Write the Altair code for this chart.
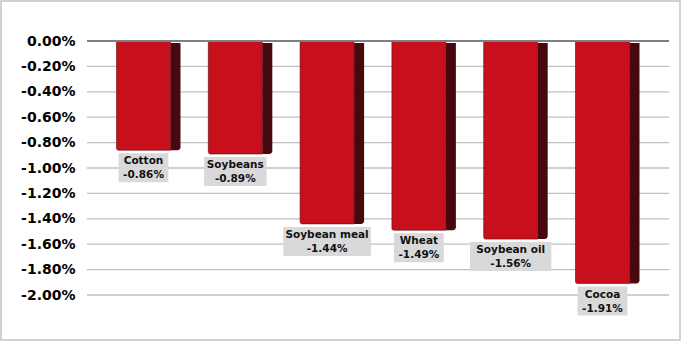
import altair as alt
import pandas as pd

categories = ["Cotton", "Soybeans", "Soybean meal", "Wheat", "Soybean oil", "Cocoa"]
values = [-0.86, -0.89, -1.44, -1.49, -1.56, -1.91]
y_ticks = [0.0, -0.2, -0.4, -0.6, -0.8, -1.0, -1.2, -1.4, -1.6, -1.8, -2.0]

df = pd.DataFrame({"cat": categories, "v": values})

W, H = 582, 254
FONT = "DejaVu Sans"

x_enc = alt.X("cat:N", sort=categories,
              scale=alt.Scale(paddingInner=0, paddingOuter=0.17), axis=None)
y_scale = alt.Scale(domain=[-2.0, 0.0], nice=False, zero=False)
y_axis = alt.Axis(values=y_ticks, grid=False, domain=False, ticks=False,
                  labelOverlap=False, labelFlush=False,
                  labelPadding=12, labelFont=FONT, labelFontSize=14,
                  labelFontWeight="bold", labelColor="#000000",
                  labelExpr="replace(format(datum.value, '.2f'), '\u2212', '-') + '%'")


def yv(field):
    return alt.Y(field, scale=y_scale, axis=y_axis, title=None)


base = alt.Chart(df)

grid = alt.Chart(pd.DataFrame({"t": y_ticks})).mark_rule(color="#c0c0c0", strokeWidth=1.3).encode(
    y=yv("t:Q"), x=alt.value(0), x2=alt.value(W),
)

side = base.mark_bar(width=10, xOffset=27, color="#480810", y2Offset=2,
                     cornerRadiusBottomRight=3).encode(
    x=x_enc, y=yv("v:Q"), y2=alt.datum(0),
)

front = base.mark_bar(width=54, xOffset=-5, color="#c8101c", stroke="#5a0a0f",
                      strokeWidth=0.6, cornerRadiusBottomLeft=2).encode(
    x=x_enc, y=yv("v:Q"), y2=alt.datum(0),
)

zero = alt.Chart(pd.DataFrame({"z": [0.0]})).mark_rule(color="#808080", strokeWidth=2).encode(
    y=yv("z:Q"), x=alt.value(0), x2=alt.value(W),
)

boxes = base.transform_calculate(
    w="max(length(datum.cat), 6) * 6.3 + 12"
).mark_bar(xOffset=-5, yOffset=3, y2Offset=32, color="#d9d9d9").encode(
    x=x_enc, y=yv("v:Q"), y2="v:Q",
    size=alt.Size("w:Q", scale=None, legend=None),
)

txt1 = base.mark_text(xOffset=-5, dy=11, baseline="middle", font=FONT, fontSize=10.5,
                      fontWeight="bold", color="#111111").encode(
    x=x_enc, y=yv("v:Q"), text="cat:N",
)

txt2 = base.transform_calculate(
    pct="replace(format(datum.v, '.2f'), '\u2212', '-') + '%'"
).mark_text(xOffset=-5, dy=25, baseline="middle", font=FONT, fontSize=10.5,
            fontWeight="bold", color="#111111").encode(
    x=x_enc, y=yv("v:Q"), text="pct:N",
)

frame = alt.Chart(pd.DataFrame({"a": [0]})).mark_rect(
    fill=None, stroke="#c4c4c4", strokeWidth=1.5
).encode(
    x=alt.value(-86), x2=alt.value(W + 11), y=alt.value(-40), y2=alt.value(H + 45),
)

chart = alt.layer(grid, side, front, zero, boxes, txt1, txt2, frame).properties(
    width=W, height=H,
    autosize=alt.AutoSizeParams(type="none"),
    padding={"left": 87, "top": 41, "right": 12, "bottom": 46},
    background="white",
).configure_view(stroke=None).configure_axis(labelOverlap=False)

chart.save("out.html", embed_options={"renderer": "svg", "actions": False})
